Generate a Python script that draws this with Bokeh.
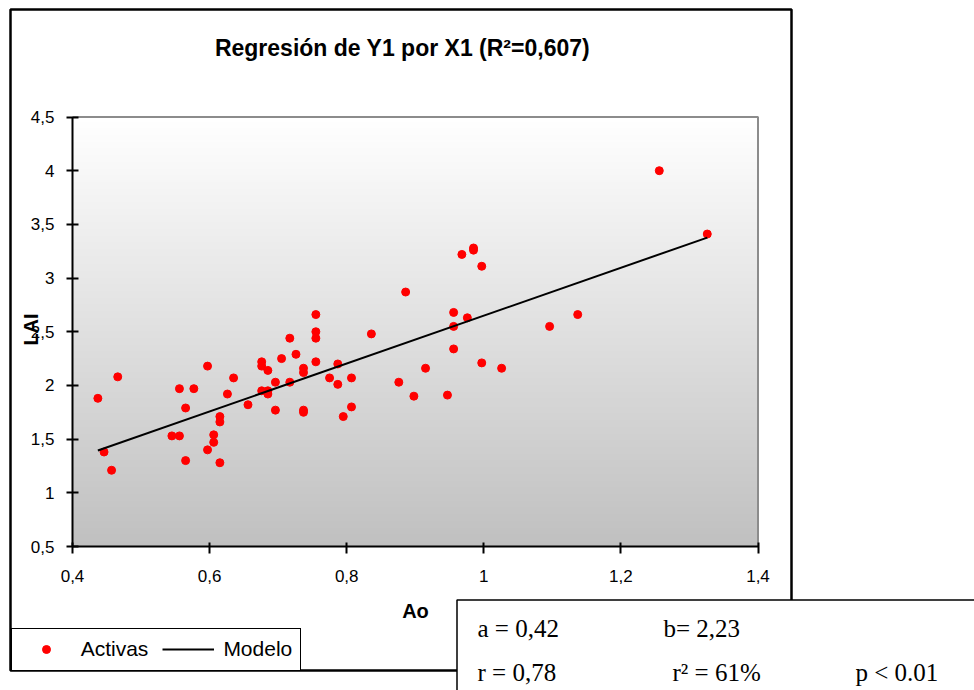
import numpy as np
from bokeh.plotting import figure
from bokeh.models import (Range1d, FixedTicker, Label, BoxAnnotation, Legend,
                          LegendItem, ColumnDataSource)
from bokeh.embed import file_html
from bokeh.resources import INLINE

# ---------------- data ----------------
ao = [0.437, 0.466, 0.446, 0.457, 0.545, 0.556, 0.556, 0.577, 0.565, 0.565,
      0.597, 0.597, 0.606, 0.606, 0.615, 0.615, 0.615, 0.626, 0.635, 0.656,
      0.676, 0.676, 0.685, 0.676, 0.685, 0.685, 0.696, 0.696, 0.705, 0.717,
      0.717, 0.726, 0.737, 0.737, 0.737, 0.737, 0.755, 0.755, 0.755, 0.755,
      0.775, 0.787, 0.787, 0.795, 0.807, 0.807, 0.836, 0.876, 0.968, 0.985,
      0.985, 0.997, 0.886, 0.956, 0.976, 0.956, 0.956, 1.096, 1.137, 0.915,
      0.898, 0.947, 0.997, 1.026, 1.256, 1.326]
lai = [1.88, 2.08, 1.38, 1.21, 1.53, 1.53, 1.97, 1.97, 1.79, 1.30,
       2.18, 1.40, 1.54, 1.47, 1.71, 1.66, 1.28, 1.92, 2.07, 1.82,
       2.22, 2.18, 2.14, 1.95, 1.95, 1.92, 2.03, 1.77, 2.25, 2.44,
       2.03, 2.29, 2.16, 2.12, 1.77, 1.75, 2.66, 2.50, 2.44, 2.22,
       2.07, 2.20, 2.01, 1.71, 2.07, 1.80, 2.48, 2.03, 3.22, 3.28,
       3.26, 3.11, 2.87, 2.68, 2.63, 2.55, 2.34, 2.55, 2.66, 2.16,
       1.90, 1.91, 2.21, 2.16, 4.00, 3.41]
coef_a = 0.42
coef_b = 2.23

title_text = "Regresión de Y1 por X1 (R²=0,607)"
x_title = "Ao"
y_title = "LAI"
series_names = ["Activas", "Modelo"]
x_ticks = [0.4, 0.6, 0.8, 1.0, 1.2, 1.4]
x_tick_labels = ["0,4", "0,6", "0,8", "1", "1,2", "1,4"]
y_ticks = [0.5, 1, 1.5, 2, 2.5, 3, 3.5, 4, 4.5]
y_tick_labels = ["0,5", "1", "1,5", "2", "2,5", "3", "3,5", "4", "4,5"]
stats_row1 = ["a = 0,42", "b= 2,23"]
stats_row2 = ["r = 0,78", "r² = 61%", "p < 0.01"]

SANS = "Liberation Sans"
SERIF = "Liberation Serif"

# ---------------- layout geometry (pixels) ----------------
W, H = 974, 690
X_LO, X_HI = x_ticks[0], x_ticks[-1]
Y_LO, Y_HI = y_ticks[0], y_ticks[-1]
PX_L, PX_R = 72.0, 757.5     # plot area left/right in pixels
PY_T, PY_B = 116.5, 546.0    # plot area top/bottom in pixels
sx = (PX_R - PX_L) / (X_HI - X_LO)
sy = (PY_B - PY_T) / (Y_HI - Y_LO)
x_range = Range1d(X_LO - PX_L / sx, X_LO + (W - PX_L) / sx)
y_range = Range1d(Y_LO - (H - PY_B) / sy, Y_HI + PY_T / sy)

p = figure(width=W, height=H, output_backend="svg", toolbar_location=None,
           x_range=x_range, y_range=y_range, min_border=0,
           background_fill_color="white", border_fill_color="white",
           outline_line_color=None)
p.xgrid.visible = False
p.ygrid.visible = False

# gradient background of the plot area
n = 256
grad = np.linspace(0.0, 1.0, n).reshape(n, 1)
levels = np.linspace(0xC0, 0xFF, 256).round().astype(int)
gray_palette = ["#%02x%02x%02x" % (v, v, v) for v in levels]
p.image(image=[grad], x=X_LO, y=Y_LO, dw=X_HI - X_LO, dh=Y_HI - Y_LO,
        palette=gray_palette, level="image")
# gray border of the plot area (top and right)
p.line([X_LO, X_HI, X_HI], [Y_HI, Y_HI, Y_LO], line_color="#8c8c8c",
       line_width=2)

# axes
for ax in (p.xaxis[0], p.yaxis[0]):
    ax.axis_line_width = 2
    ax.axis_line_color = "black"
    ax.major_tick_line_width = 2
    ax.major_tick_line_color = "black"
    ax.minor_tick_line_color = None
    ax.major_label_text_font = SANS
    ax.major_label_text_font_size = "17px"
    ax.major_label_text_color = "black"

p.xaxis.fixed_location = Y_LO
p.xaxis.bounds = (X_LO, X_HI)
p.xaxis.ticker = FixedTicker(ticks=x_ticks)
p.xaxis.major_label_overrides = dict(zip(x_ticks, x_tick_labels))
p.xaxis.major_tick_in = 4
p.xaxis.major_tick_out = 7
p.xaxis.major_label_standoff = 16
p.xaxis.axis_label = x_title
p.xaxis.axis_label_text_font = SANS
p.xaxis.axis_label_text_font_style = "bold"
p.xaxis.axis_label_text_font_size = "20px"
p.xaxis.axis_label_text_color = "black"
p.xaxis.axis_label_standoff = 15

p.yaxis.fixed_location = X_LO
p.yaxis.bounds = (Y_LO, Y_HI)
p.yaxis.ticker = FixedTicker(ticks=y_ticks)
p.yaxis.major_label_overrides = dict(zip(y_ticks, y_tick_labels))
p.yaxis.major_tick_in = 6
p.yaxis.major_tick_out = 6
p.yaxis.major_label_standoff = 12

# data
src = ColumnDataSource(dict(x=ao, y=lai))
pts = p.scatter("x", "y", source=src, size=8, marker="circle",
                fill_color="#ff0000", line_color="#ff0000")
xs = [min(ao), max(ao)]
ys = [coef_a + coef_b * v for v in xs]
ln = p.line(xs, ys, line_color="black", line_width=2)

# outer chart border
p.add_layout(BoxAnnotation(left=10, right=791, top=9, bottom=670,
                           left_units="canvas", right_units="canvas",
                           top_units="canvas", bottom_units="canvas",
                           fill_color=None, line_color="black",
                           line_alpha=1.0, line_width=2.5))

# legend
legend = Legend(items=[LegendItem(label=series_names[0], renderers=[pts]),
                       LegendItem(label=series_names[1], renderers=[ln])],
                orientation="horizontal", location=(10.7, H - 670.7),
                border_line_color="black", border_line_width=1.5,
                border_line_alpha=1.0,
                background_fill_color="white", background_fill_alpha=1.0,
                label_text_font=SANS, label_text_font_size="21px",
                label_text_color="black",
                glyph_width=52, glyph_height=20, label_height=25,
                label_standoff=9, spacing=14, padding=8, margin=0)
p.add_layout(legend)

# statistics box
p.add_layout(BoxAnnotation(left=456.5, right=1000, top=599.5, bottom=720,
                           left_units="canvas", right_units="canvas",
                           top_units="canvas", bottom_units="canvas",
                           fill_color="white", fill_alpha=1.0,
                           line_color="black", line_alpha=1.0,
                           line_width=1.5))

# title and y label
p.add_layout(Label(x=402, y=47, x_units="canvas", y_units="canvas",
                   text=title_text, text_align="center",
                   text_baseline="middle", text_font=SANS,
                   text_font_style="bold", text_font_size="23px",
                   text_color="black"))
p.add_layout(Label(x=30, y=329, x_units="canvas", y_units="canvas",
                   text=y_title, angle=np.pi / 2, text_align="center",
                   text_baseline="middle", text_font=SANS,
                   text_font_style="bold", text_font_size="20px",
                   text_color="black"))

for txt, xx in zip(stats_row1, [477, 663]):
    p.add_layout(Label(x=xx, y=628, x_units="canvas", y_units="canvas",
                       text=txt, text_align="left", text_baseline="middle",
                       text_font=SERIF, text_font_size="25px",
                       text_color="black"))
for txt, xx in zip(stats_row2, [477, 672, 855]):
    p.add_layout(Label(x=xx, y=672, x_units="canvas", y_units="canvas",
                       text=txt, text_align="left", text_baseline="middle",
                       text_font=SERIF, text_font_size="25px",
                       text_color="black"))

open("out.html", "w").write(file_html(p, INLINE))
